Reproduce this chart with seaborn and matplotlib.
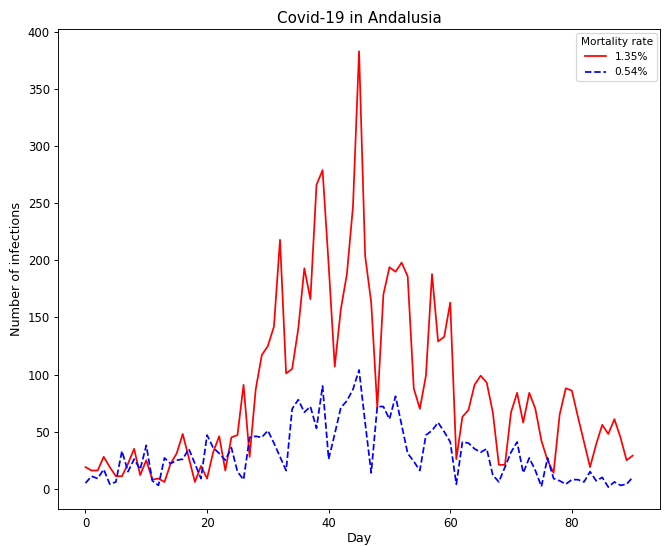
import numpy as np
import pandas as pd
import matplotlib
matplotlib.use("Agg")
import matplotlib.pyplot as plt
import seaborn as sns

days = list(range(91))
rate_high = [19, 16, 16, 28, 19, 11, 11, 22, 35, 12,
             25, 8, 9, 6, 22, 31, 48, 27, 6, 20,
             9, 32, 46, 16, 45, 47, 91, 28, 87, 117,
             125, 142, 218, 101, 105, 140, 193, 166, 266, 279,
             196, 107, 157, 188, 247, 383, 204, 163, 71, 170,
             194, 190, 198, 186, 88, 70, 99, 188, 129, 133,
             163, 26, 63, 69, 91, 99, 93, 67, 21, 21,
             67, 84, 58, 84, 70, 42, 25, 14, 65, 88,
             86, 63, 41, 19, 39, 56, 48, 61, 45, 25,
             29]
rate_low = [5, 11, 9, 17, 4, 6, 33, 15, 26, 17,
            38, 7, 3, 27, 22, 25, 26, 35, 22, 9,
            47, 36, 31, 25, 36, 15, 8, 45, 46, 45,
            51, 40, 28, 16, 70, 78, 67, 72, 53, 90,
            26, 48, 71, 77, 87, 104, 58, 14, 72, 72,
            61, 81, 56, 31, 24, 16, 47, 51, 58, 50,
            41, 4, 41, 40, 35, 32, 35, 12, 6, 19,
            32, 41, 14, 27, 16, 2, 27, 9, 7, 4,
            8, 8, 6, 15, 7, 10, 1.5, 6, 3, 4,
            10]
labels = ["1.35%", "0.54%"]

df = pd.DataFrame({"Day": days, "high": rate_high, "low": rate_low})

DPI = 83.5
fig, ax = plt.subplots(figsize=(668 / DPI, 546 / DPI), dpi=DPI)
sns.lineplot(data=df, x="Day", y="high", ax=ax, color="red", linestyle="-",
             linewidth=1.5, label=labels[0])
sns.lineplot(data=df, x="Day", y="low", ax=ax, color="blue", linestyle="--",
             linewidth=1.5, label=labels[1])
ax.set_title("Covid-19 in Andalusia", fontsize=13)
ax.set_xlabel("Day", fontsize=11, labelpad=2)
ax.set_ylabel("Number of infections", fontsize=11)
ax.tick_params(labelsize=10)
ax.legend(title="Mortality rate", loc="upper right", fontsize=9,
          title_fontsize=9, borderaxespad=0.3)
fig.subplots_adjust(left=0.087, right=0.988, top=0.946, bottom=0.068)
fig.savefig("out.png", dpi=DPI)
